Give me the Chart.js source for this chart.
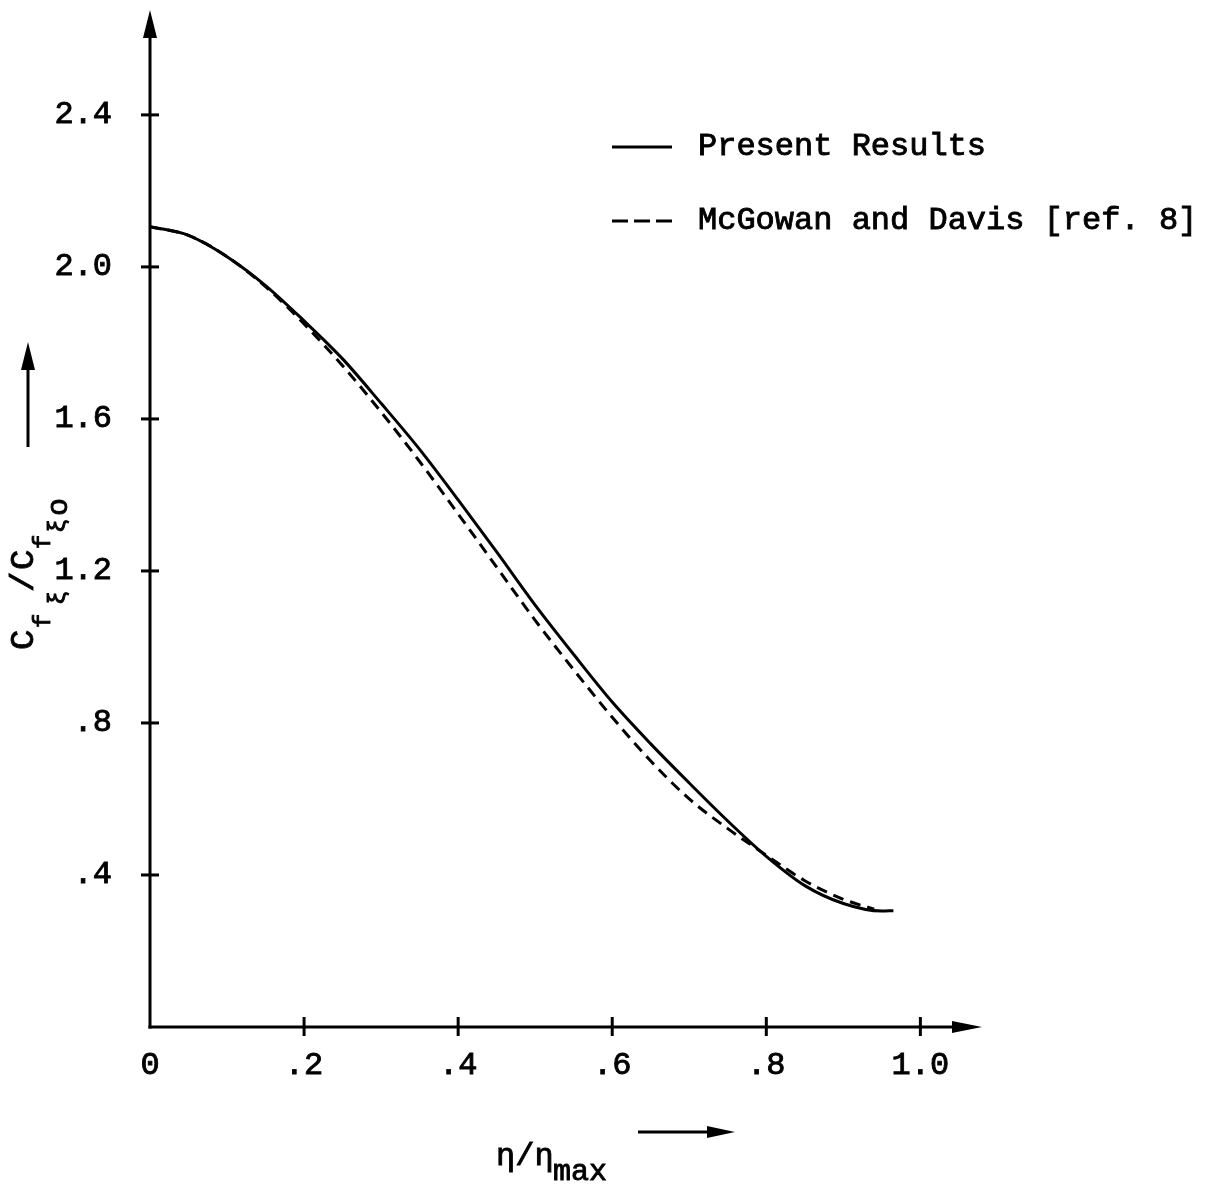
<!DOCTYPE html>
<html>
<head>
<meta charset="utf-8">
<script src="https://cdn.jsdelivr.net/npm/chart.js@4.4.0/dist/chart.umd.min.js"></script>
<style>
  html, body { margin: 0; padding: 0; background: #fff; }
  #wrap { width: 1222px; height: 1188px; position: relative; }
</style>
</head>
<body>
<div id="wrap"><canvas id="cfChart"></canvas></div>
<script>
// values
const etaPresent = [0, 0.05, 0.1, 0.15, 0.2, 0.25, 0.3, 0.35, 0.4, 0.45, 0.5, 0.55, 0.6, 0.65, 0.7, 0.75, 0.8, 0.85, 0.9, 0.95, 0.965];
const cfPresent  = [2.106, 2.083, 2.027, 1.951, 1.858, 1.758, 1.641, 1.52, 1.387, 1.25, 1.11, 0.98, 0.855, 0.745, 0.642, 0.542, 0.449, 0.372, 0.325, 0.305, 0.306];

const etaMcGowan = [0, 0.05, 0.1, 0.15, 0.2, 0.25, 0.3, 0.35, 0.4, 0.45, 0.5, 0.55, 0.6, 0.65, 0.7, 0.75, 0.8, 0.85, 0.9, 0.94];
const cfMcGowan  = [2.106, 2.083, 2.027, 1.948, 1.85, 1.74, 1.618, 1.488, 1.35, 1.21, 1.07, 0.94, 0.815, 0.70, 0.60, 0.522, 0.452, 0.385, 0.336, 0.31];

const seriesNames = ['Present Results', 'McGowan and Davis [ref. 8]'];

const xTicks = [0, 0.2, 0.4, 0.6, 0.8, 1.0];
const xTickLabels = ['0', '.2', '.4', '.6', '.8', '1.0'];
const yTicks = [0.4, 0.8, 1.2, 1.6, 2.0, 2.4];
const yTickLabels = ['.4', '.8', '1.2', '1.6', '2.0', '2.4'];

const FONT = "'Liberation Mono', 'DejaVu Sans Mono', monospace";
const ink = '#000';

function pairs(xs, ys) {
  return xs.map((x, i) => ({ x: x, y: ys[i] }));
}

function arrowHead(ctx, tipX, tipY, dir, len, half) {
  ctx.beginPath();
  if (dir === 'up') {
    ctx.moveTo(tipX, tipY);
    ctx.lineTo(tipX - half, tipY + len);
    ctx.lineTo(tipX + half, tipY + len);
  } else {
    ctx.moveTo(tipX, tipY);
    ctx.lineTo(tipX - len, tipY - half);
    ctx.lineTo(tipX - len, tipY + half);
  }
  ctx.closePath();
  ctx.fill();
}

// typewriter-ish text: fill plus a thin stroke
function typeText(ctx, str, x, y) {
  ctx.fillText(str, x, y);
  ctx.lineWidth = 0.9;
  ctx.strokeText(str, x, y);
}

// axes with arrows, cross ticks, legend and axis titles
const decorations = {
  id: 'decorations',
  afterDraw(chart) {
    const ctx = chart.ctx;
    const xs = chart.scales.x, ys = chart.scales.y;
    const x0 = xs.getPixelForValue(0);
    const y0 = ys.getPixelForValue(0);
    const area = chart.chartArea;

    ctx.save();
    ctx.strokeStyle = ink;
    ctx.fillStyle = ink;
    ctx.lineWidth = 3;
    ctx.lineCap = 'butt';

    // y axis
    ctx.beginPath();
    ctx.moveTo(x0, y0 + 1.5);
    ctx.lineTo(x0, area.top + 20);
    ctx.stroke();
    arrowHead(ctx, x0, area.top, 'up', 28, 7);

    // x axis
    ctx.beginPath();
    ctx.moveTo(x0 - 1.5, y0);
    ctx.lineTo(area.right - 20, y0);
    ctx.stroke();
    arrowHead(ctx, area.right, y0, 'right', 30, 6);

    // cross ticks
    yTicks.forEach(v => {
      const py = ys.getPixelForValue(v);
      ctx.beginPath();
      ctx.moveTo(x0 - 9, py);
      ctx.lineTo(x0 + 9, py);
      ctx.stroke();
    });
    xTicks.slice(1).forEach(v => {
      const px = xs.getPixelForValue(v);
      ctx.beginPath();
      ctx.moveTo(px, y0 - 10);
      ctx.lineTo(px, y0 + 9);
      ctx.stroke();
    });

    // legend
    const sets = chart.data.datasets;
    const legendRows = [147, 221];
    sets.forEach((ds, i) => {
      const ly = legendRows[i];
      ctx.lineWidth = 3;
      ctx.setLineDash(ds.borderDash ? [16, 6] : []);
      ctx.beginPath();
      ctx.moveTo(612, ly);
      ctx.lineTo(672, ly);
      ctx.stroke();
      ctx.setLineDash([]);
      ctx.font = '32px ' + FONT;
      ctx.textBaseline = 'middle';
      ctx.textAlign = 'left';
      typeText(ctx, ds.label, 698, ly);
    });

    // y title, rotated, with subscripts
    ctx.save();
    ctx.translate(33, 650);
    ctx.rotate(-Math.PI / 2);
    ctx.textBaseline = 'alphabetic';
    const yParts = [
      ['C', 0, 0, 34], ['f', 22, 17, 24], ['\u03be', 45, 32, 24],
      ['/', 58, 0, 34], ['C', 80, 0, 34], ['f', 101, 17, 24],
      ['\u03be', 117, 32, 24], ['o', 134, 34, 30]
    ];
    yParts.forEach(p => {
      ctx.font = p[3] + 'px ' + FONT;
      typeText(ctx, p[0], p[1], p[2]);
    });
    ctx.restore();

    // arrow next to y title
    ctx.lineWidth = 3;
    ctx.beginPath();
    ctx.moveTo(28, 447);
    ctx.lineTo(28, 362);
    ctx.stroke();
    arrowHead(ctx, 28, 342, 'up', 28, 7);

    // x title
    ctx.textBaseline = 'alphabetic';
    ctx.font = '32px ' + FONT;
    typeText(ctx, '\u03b7/\u03b7', 496, 1165);
    ctx.font = '30px ' + FONT;
    typeText(ctx, 'max', 553, 1180);

    // arrow next to x title
    ctx.lineWidth = 3;
    ctx.beginPath();
    ctx.moveTo(638, 1132);
    ctx.lineTo(712, 1132);
    ctx.stroke();
    arrowHead(ctx, 735, 1132, 'right', 28, 6);

    ctx.restore();
  }
};

const ctx = document.getElementById('cfChart').getContext('2d');
new Chart(ctx, {
  type: 'line',
  data: {
    datasets: [
      {
        label: seriesNames[0],
        data: pairs(etaPresent, cfPresent),
        borderColor: ink,
        borderWidth: 3,
        pointRadius: 0,
        fill: false,
        cubicInterpolationMode: 'monotone'
      },
      {
        label: seriesNames[1],
        data: pairs(etaMcGowan, cfMcGowan),
        borderColor: ink,
        borderWidth: 3,
        borderDash: [11, 7],
        pointRadius: 0,
        fill: false,
        cubicInterpolationMode: 'monotone'
      }
    ]
  },
  options: {
    responsive: true,
    maintainAspectRatio: false,
    animation: false,
    layout: { padding: { top: 10, right: 240, left: 0, bottom: 0 } },
    plugins: { legend: { display: false }, tooltip: { enabled: false } },
    scales: {
      x: {
        type: 'linear',
        min: 0,
        max: 1.08,
        afterFit: s => { s.height = 161; s.paddingLeft = 0; s.paddingRight = 0; },
        afterBuildTicks: s => { s.ticks = xTicks.map(v => ({ value: v })); },
        grid: { display: false, drawTicks: false },
        border: { display: false },
        ticks: {
          padding: 19,
          maxRotation: 0,
          autoSkip: false,
          color: ink,
          textStrokeColor: ink,
          textStrokeWidth: 0.9,
          font: { family: FONT, size: 32 },
          callback: v => xTickLabels[xTicks.indexOf(v)]
        }
      },
      y: {
        type: 'linear',
        min: 0,
        max: 2.676,
        afterFit: s => { s.width = 150; s.paddingTop = 0; s.paddingBottom = 0; },
        afterBuildTicks: s => { s.ticks = yTicks.map(v => ({ value: v })); },
        grid: { display: false, drawTicks: false },
        border: { display: false },
        ticks: {
          padding: 38,
          autoSkip: false,
          color: ink,
          textStrokeColor: ink,
          textStrokeWidth: 0.9,
          font: { family: FONT, size: 32 },
          callback: v => yTickLabels[yTicks.indexOf(v)]
        }
      }
    }
  },
  plugins: [decorations]
});
</script>
</body>
</html>
